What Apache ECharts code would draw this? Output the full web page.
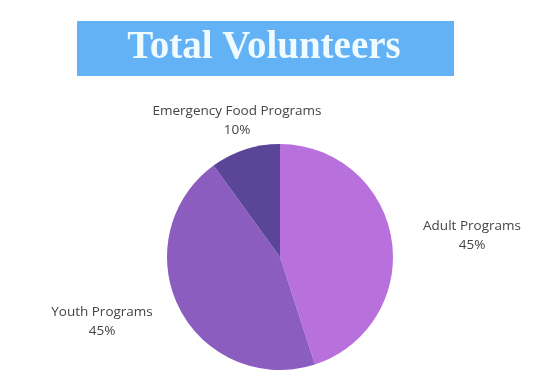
<!DOCTYPE html>
<html>
<head>
<meta charset="utf-8">
<script src="https://cdn.jsdelivr.net/npm/echarts@6/dist/echarts.min.js"></script>
<style>
  html, body { margin: 0; padding: 0; background: #fff; }
  #chart { width: 547px; height: 380px; }
</style>
</head>
<body>
<div id="chart"></div>
<script>
const categories = ['Adult Programs', 'Youth Programs', 'Emergency Food Programs'];
const shares = [45, 45, 10];
const sliceColors = ['#b870dd', '#8a5dbf', '#5a4599'];
const chartTitle = 'Total Volunteers';

const chart = echarts.init(document.getElementById('chart'));

// hand placed label anchors (center of each two-line label)
const labelSpots = [[472, 236], [102, 322], [237, 121]];

chart.setOption({
  animation: false,
  graphic: [
    {
      type: 'rect',
      left: 77,
      top: 21,
      shape: { width: 377, height: 55 },
      style: { fill: '#62b2f5' },
      silent: true
    },
    {
      type: 'text',
      x: 264,
      y: 48,
      style: {
        text: chartTitle,
        fill: '#f0fbff',
        font: 'bold 39px "Liberation Serif"',
        align: 'center',
        verticalAlign: 'middle'
      },
      silent: true
    }
  ],
  series: [
    {
      type: 'pie',
      center: [280, 257],
      radius: 113,
      startAngle: 90,
      clockwise: true,
      label: {
        show: true,
        position: 'outside',
        formatter: '{b}\n{c}%',
        color: '#444',
        fontFamily: 'Open Sans',
        fontSize: 13.5,
        lineHeight: 19,
        align: 'center',
        overflow: 'none',
        edgeDistance: 0
      },
      labelLine: { show: false },
      labelLayout: (p) => ({
        x: labelSpots[p.dataIndex][0],
        y: labelSpots[p.dataIndex][1],
        align: 'center',
        verticalAlign: 'middle'
      }),
      emphasis: { disabled: true },
      data: categories.map((name, i) => ({
        name: name,
        value: shares[i],
        itemStyle: { color: sliceColors[i] }
      }))
    }
  ]
});
</script>
</body>
</html>
